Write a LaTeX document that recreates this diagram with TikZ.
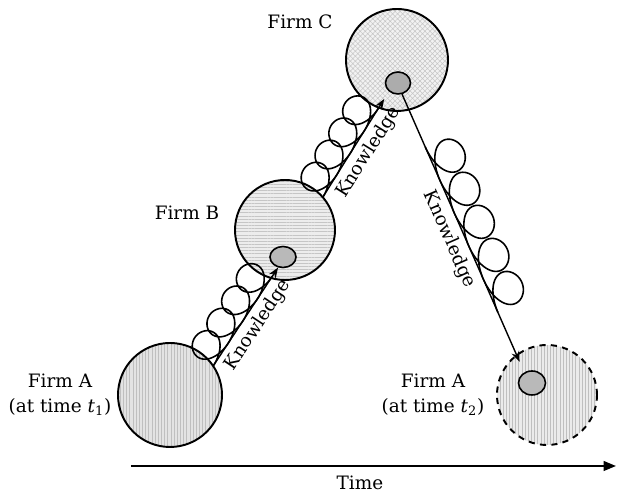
\documentclass[tikz,border=0pt]{standalone}
\usepackage{fontspec}
\setmainfont{DejaVu Serif}
\usetikzlibrary{calc, shapes.geometric, arrows.meta, patterns.meta}

% loops beside a knowledge arrow: from, to, number of loops, height, reach (cm)
\newcommand{\knowloops}[5]{%
  \path let \p1 = ($(#2)-(#1)$) in
    \pgfextra{%
      \pgfmathsetmacro{\lpang}{atan2(\y1,\x1)}%
      \pgfmathsetmacro{\lpstep}{veclen(\x1,\y1)/28.45274/(2*pi*#3)}%
      \pgfmathsetmacro{\lpend}{2*pi*#3}%
      \global\let\lpang\lpang
      \global\let\lpstep\lpstep
      \global\let\lpend\lpend};
  \draw[loopline, shift={(#1)}, rotate=\lpang]
    plot[domain=0:\lpend, samples=301, smooth, variable=\t]
    ({\lpstep*(\t + 4/3*sin(\t r) + 1/6*sin(2*\t r)) + #5*sin(\t r)}, {#4*(1 - cos(\t r))});
}

\begin{document}
\begin{tikzpicture}[
    firm/.style={circle, draw, line width=1.1pt, inner sep=0pt, minimum size=2cm},
    core/.style={ellipse, draw, line width=0.9pt, inner sep=0pt},
    vlines/.style={preaction={fill=#1}, pattern={Lines[angle=90, distance=1.8pt, line width=0.3pt]}, pattern color=gray!50},
    hlines/.style={preaction={fill=#1}, pattern={Lines[angle=0, distance=1.8pt, line width=0.3pt]}, pattern color=gray!45},
    xlines/.style={preaction={fill=#1}, pattern={Hatch[angle=45, distance=2pt, line width=0.3pt]}, pattern color=gray!45},
    firmtext/.style={font=\fontsize{10.5}{14}\selectfont, align=center},
    flow/.style={-{Stealth[length=6pt, width=4.5pt]}, line width=0.8pt},
    loopline/.style={line width=0.9pt},
    know/.style={font=\fontsize{10.5}{12}\selectfont, sloped, below=2pt, midway, inner sep=1pt}
]
\useasboundingbox (0,0) rectangle (12.34,9.82);

% Firms
\node[firm, minimum size=2.08cm, vlines=gray!22] (a1) at (3.40,1.92) {};
\node[firm, hlines=gray!14] (b) at (5.70,5.22) {};
\node[firm, minimum size=2.04cm, xlines=gray!10] (c) at (7.94,8.62) {};
\node[firm, dash pattern=on 3.5pt off 3pt, vlines=gray!16] (a2) at (10.94,1.92) {};

% Knowledge cores
\node[core, minimum width=0.52cm, minimum height=0.42cm, fill=gray!55] (bcore) at (5.66,4.68) {};
\node[core, minimum width=0.50cm, minimum height=0.44cm, fill=gray!65] (ccore) at (7.96,8.16) {};
\node[core, minimum width=0.54cm, minimum height=0.48cm, fill=gray!55] (a2core) at (10.64,2.16) {};

% Labels
\node[firmtext] (a1text) at (1.20,1.92) {Firm A\\(at time \textit{t}\textsubscript{1})};
\node[firmtext] (btext) at (3.74,5.56) {Firm B};
\node[firmtext] (ctext) at (6.00,9.38) {Firm C};
\node[firmtext] (a2text) at (8.66,1.92) {Firm A\\(at time \textit{t}\textsubscript{2})};

% Knowledge flows
\draw[flow] (a1.34) -- (bcore.-115) node[know] {Knowledge};
\draw[flow, shorten >=5pt] (b.41) -- (ccore.-137) node[know] {Knowledge};
\draw[flow, shorten >=6.5pt] (ccore.-70) -- (a2core.126) node[know] {Knowledge};

% Loops
\coordinate (l1s) at (a1.34);
\coordinate (l1e) at ($(a1.34)!0.91!(bcore.-115)$);
\coordinate (l2s) at (b.41);
\coordinate (l2e) at ($(b.41)!0.84!(ccore.-137)$);
\coordinate (l3s) at ($(ccore.-70)!0.19!(a2core.126)$);
\coordinate (l3e) at ($(ccore.-70)!0.785!(a2core.126)$);
\knowloops{l1s}{l1e}{4}{0.31}{0.31}
\knowloops{l2s}{l2e}{4}{0.31}{0.31}
\knowloops{l3s}{l3e}{5}{0.34}{0.36}

% Time axis
\coordinate (t0) at (2.62,0.50);
\coordinate (t1) at (12.32,0.50);
\draw[-{Triangle[length=7pt, width=5.5pt]}, line width=1.1pt] (t0) -- (t1);
\node[firmtext] (time) at (7.20,0.17) {Time};

\end{tikzpicture}
\end{document}
